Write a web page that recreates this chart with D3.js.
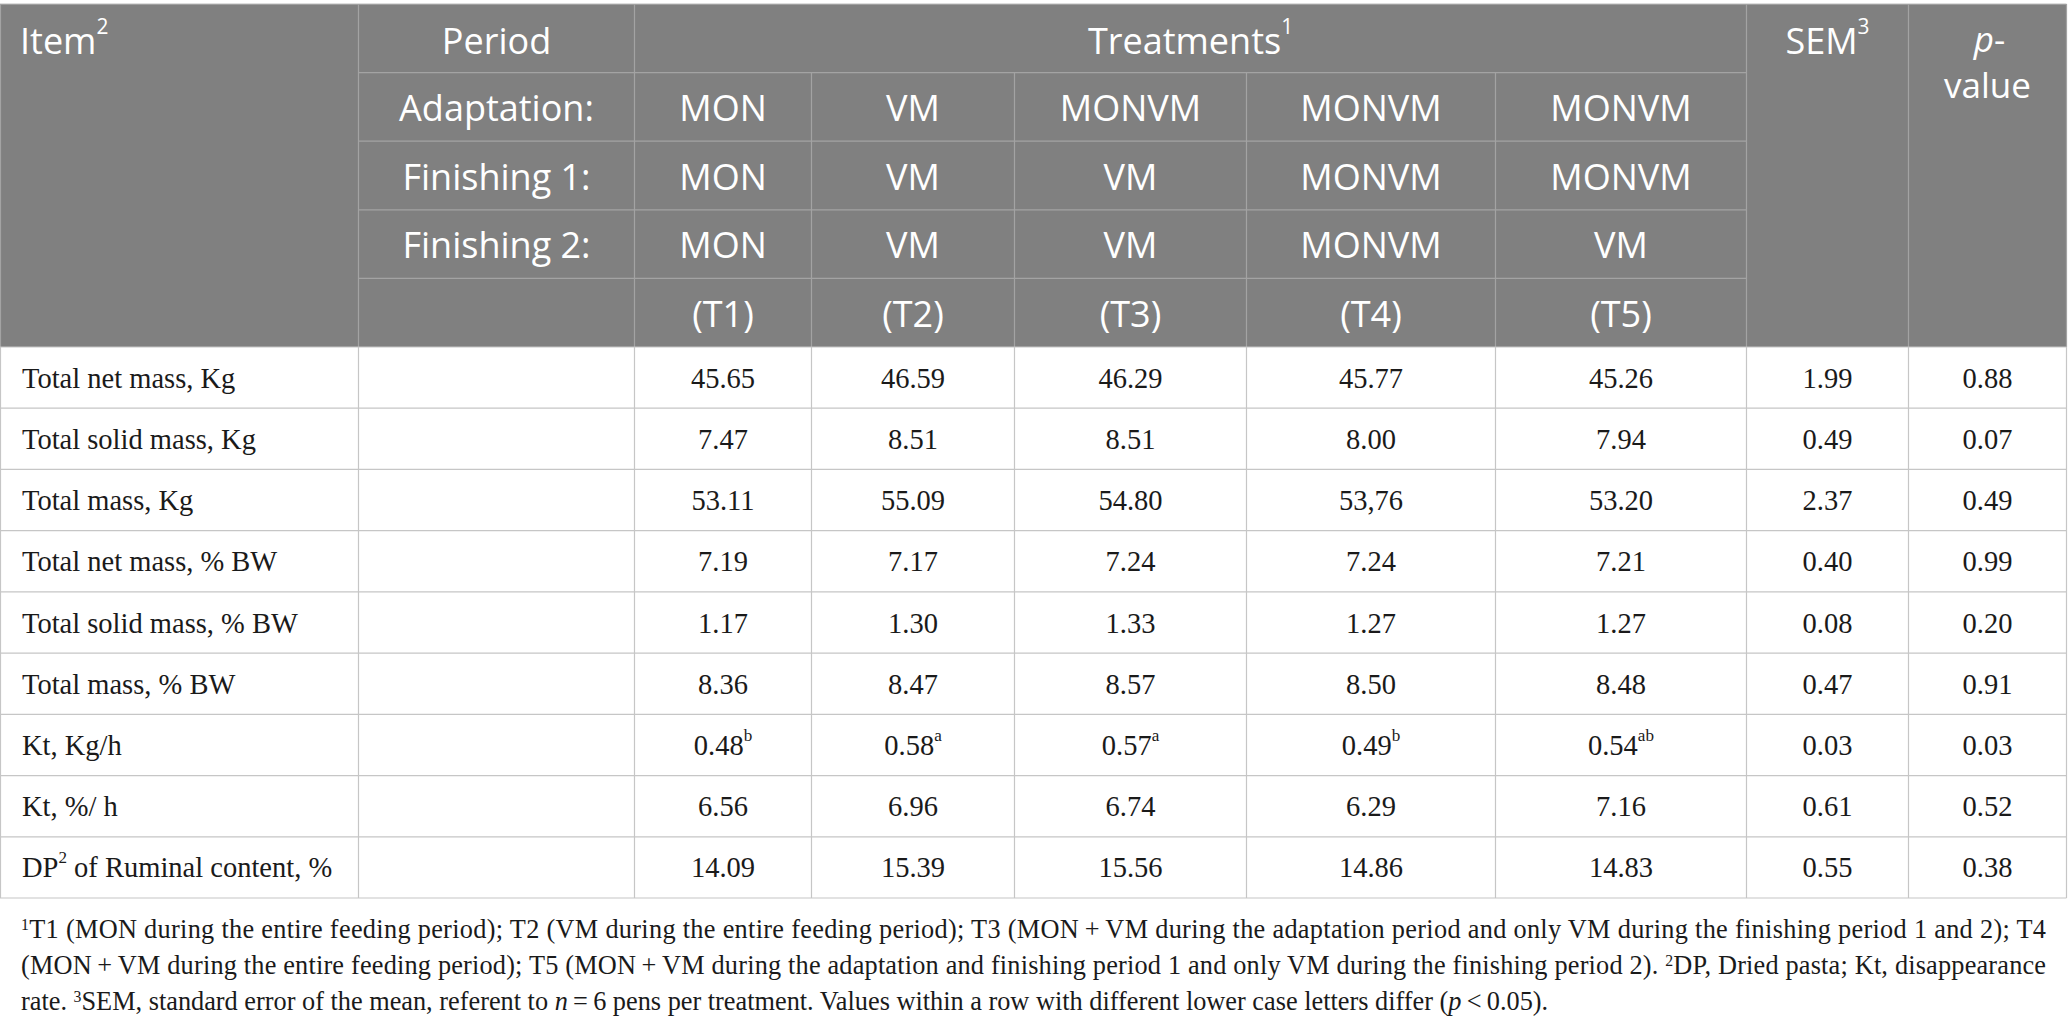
<!DOCTYPE html>
<html><head><meta charset="utf-8">
<script src="https://cdn.jsdelivr.net/npm/d3@7"></script>
<style>
html,body{margin:0;padding:0;background:#fff;}
svg{display:block;}
</style></head>
<body>
<svg id="chart" width="2068" height="1026"></svg>
<script>
// ---------- data ----------
const periodLabels = ["Adaptation:", "Finishing 1:", "Finishing 2:", ""];
const adaptation = ["MON", "VM", "MONVM", "MONVM", "MONVM"];
const finishing1 = ["MON", "VM", "VM", "MONVM", "MONVM"];
const finishing2 = ["MON", "VM", "VM", "MONVM", "VM"];
const treatmentCodes = ["(T1)", "(T2)", "(T3)", "(T4)", "(T5)"];
const itemLabels = ["Total net mass, Kg", "Total solid mass, Kg", "Total mass, Kg", "Total net mass, % BW", "Total solid mass, % BW", "Total mass, % BW", "Kt, Kg/h", "Kt, %/ h", "DP|2| of Ruminal content, %"];
const t1 = ["45.65", "7.47", "53.11", "7.19", "1.17", "8.36", "0.48|b|", "6.56", "14.09"];
const t2 = ["46.59", "8.51", "55.09", "7.17", "1.30", "8.47", "0.58|a|", "6.96", "15.39"];
const t3 = ["46.29", "8.51", "54.80", "7.24", "1.33", "8.57", "0.57|a|", "6.74", "15.56"];
const t4 = ["45.77", "8.00", "53,76", "7.24", "1.27", "8.50", "0.49|b|", "6.29", "14.86"];
const t5 = ["45.26", "7.94", "53.20", "7.21", "1.27", "8.48", "0.54|ab|", "7.16", "14.83"];
const sem = ["1.99", "0.49", "2.37", "0.40", "0.08", "0.47", "0.03", "0.61", "0.55"];
const pValue = ["0.88", "0.07", "0.49", "0.99", "0.20", "0.91", "0.03", "0.52", "0.38"];
const footnotes = [
  "|1|T1 (MON during the entire feeding period); T2 (VM during the entire feeding period); T3 (MON\u2009+\u2009VM during the adaptation period and only VM during the finishing period 1 and 2); T4",
  "(MON\u2009+\u2009VM during the entire feeding period); T5 (MON\u2009+\u2009VM during the adaptation and finishing period 1 and only VM during the finishing period 2). |2|DP, Dried pasta; Kt, disappearance",
  "rate. |3|SEM, standard error of the mean, referent to ~n~\u2009=\u20096 pens per treatment. Values within a row with different lower case letters differ (~p~\u2009<\u20090.05)."
];

// ---------- layout ----------
const colEdges = [0.5, 358.5, 634.5, 811.5, 1014.5, 1246.5, 1495.5, 1746.5, 1908.5, 2066.5];
const headerTop = 4, headerBottom = 347, bodyBottom = 898;
const headerFill = "#808080", headerLine = "#a3a3a3", bodyLine = "#c6c6c6";
const sansFont = "'Open Sans', 'Noto Sans', sans-serif";
const serifFont = "'Liberation Serif', 'DejaVu Serif', serif";

const svg = d3.select("#chart");

const colIdx = d3.range(colEdges.length - 1);
const colLeft = d3.scaleOrdinal().domain(colIdx).range(colEdges.slice(0, -1));
const colRight = d3.scaleOrdinal().domain(colIdx).range(colEdges.slice(1));
const colMid = i => (colLeft(i) + colRight(i)) / 2;

const hRow = d3.scaleBand().domain(d3.range(5)).range([headerTop, headerBottom]);
const bRow = d3.scaleBand().domain(d3.range(itemLabels.length)).range([headerBottom, bodyBottom]);

// write text with |sup| and ~italic~ markup
function richText(sel, str, size, supScale) {
  const parts = str.split(/(\|[^|]*\||~[^~]*~)/).filter(s => s.length);
  parts.forEach(p => {
    if (p.startsWith("|")) {
      sel.append("tspan").attr("font-size", size * supScale).attr("baseline-shift", "super").text(p.slice(1, -1));
    } else if (p.startsWith("~")) {
      sel.append("tspan").attr("font-style", "italic").text(p.slice(1, -1));
    } else {
      sel.append("tspan").text(p);
    }
  });
}

// ---------- header ----------
svg.append("rect").attr("x", 0).attr("y", headerTop).attr("width", colEdges[9]).attr("height", headerBottom - headerTop).attr("fill", headerFill);

const hl = svg.append("g").attr("stroke", headerLine).attr("stroke-width", 1.2).attr("fill", "none");
hl.append("line").attr("x1", 0).attr("x2", colEdges[9]).attr("y1", headerTop).attr("y2", headerTop).attr("stroke", "#bdbdbd");
[0, 1, 2, 7, 8, 9].forEach(k => hl.append("line").attr("x1", colEdges[k]).attr("x2", colEdges[k]).attr("y1", headerTop).attr("y2", headerBottom));
[3, 4, 5, 6].forEach(k => hl.append("line").attr("x1", colEdges[k]).attr("x2", colEdges[k]).attr("y1", hRow(1)).attr("y2", headerBottom));
[1, 2, 3, 4].forEach(r => hl.append("line").attr("x1", colEdges[1]).attr("x2", colEdges[7]).attr("y1", hRow(r)).attr("y2", hRow(r)));

const headerSize = 36;
const hText = (x, y, anchor, str) => {
  const t = svg.append("text").attr("x", x).attr("y", y).attr("text-anchor", anchor)
    .attr("fill", "#fff").attr("font-family", sansFont).attr("font-size", headerSize).attr("dominant-baseline", "central");
  richText(t, str, headerSize, 0.58);
  return t;
};
const hc = r => hRow(r) + hRow.bandwidth() / 2;
hText(20, hc(0) + 2, "start", "Item|2|");
hText(colMid(1), hc(0) + 2, "middle", "Period");
hText((colEdges[2] + colEdges[7]) / 2, hc(0) + 2, "middle", "Treatments|1|");
hText(colMid(7), hc(0) + 2, "middle", "SEM|3|");
// two-line "p-value"
const pvSize = 35;
const pv1 = svg.append("text").attr("x", colMid(8) + 2).attr("y", hc(0)).attr("text-anchor", "middle").attr("fill", "#fff")
  .attr("font-family", sansFont).attr("font-size", pvSize).attr("dominant-baseline", "central");
pv1.append("tspan").attr("font-style", "italic").text("p");
pv1.append("tspan").text("-");
svg.append("text").attr("x", colMid(8)).attr("y", hc(0) + 46).attr("text-anchor", "middle").attr("fill", "#fff")
  .attr("font-family", sansFont).attr("font-size", pvSize).attr("dominant-baseline", "central").text("value");

periodLabels.forEach((p, r) => { if (p) hText(colMid(1), hc(r + 1), "middle", p); });
const headerRows = [adaptation, finishing1, finishing2, treatmentCodes];
headerRows.forEach((row, r) => row.forEach((v, j) => hText(colMid(j + 2), hc(r + 1), "middle", v)));

// ---------- body ----------
const bl = svg.append("g").attr("stroke", bodyLine).attr("stroke-width", 1.2);
d3.range(itemLabels.length + 1).forEach(r => {
  const y = r < itemLabels.length ? bRow(r) : bodyBottom;
  bl.append("line").attr("x1", 0).attr("x2", colEdges[9]).attr("y1", y).attr("y2", y);
});
colEdges.forEach(x => bl.append("line").attr("x1", x).attr("x2", x).attr("y1", headerBottom).attr("y2", bodyBottom));

const bodySize = 28.5;
const bText = (x, y, anchor, str) => {
  const t = svg.append("text").attr("x", x).attr("y", y).attr("text-anchor", anchor)
    .attr("fill", "#1a1a1a").attr("font-family", serifFont).attr("font-size", bodySize).attr("dominant-baseline", "central");
  richText(t, str, bodySize, 0.6);
  return t;
};
const bc = r => bRow(r) + bRow.bandwidth() / 2;
const columns = [t1, t2, t3, t4, t5, sem, pValue];
itemLabels.forEach((lab, r) => {
  bText(22, bc(r), "start", lab);
  columns.forEach((col, j) => bText(colMid(j + 2), bc(r), "middle", col[r]));
});

// ---------- footnotes ----------
const footSize = 26.3;
const footBase = [938, 974, 1010];
const footRight = [2046, 2046, null];
footnotes.forEach((f, i) => {
  const t = svg.append("text").attr("x", 21).attr("y", footBase[i]).attr("fill", "#1a1a1a")
    .attr("font-family", serifFont).attr("font-size", footSize);
  richText(t, f, footSize, 0.6);
  if (footRight[i]) t.attr("textLength", footRight[i] - 21).attr("lengthAdjust", "spacing");
});
</script>
</body></html>
